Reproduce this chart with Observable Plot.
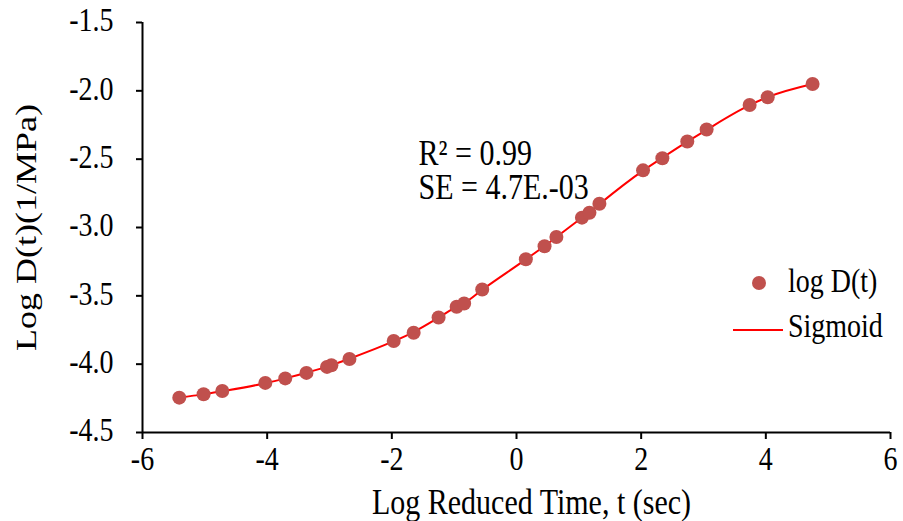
<!DOCTYPE html>
<html>
<head>
<meta charset="utf-8">
<script src="https://cdn.jsdelivr.net/npm/d3@7"></script>
<script src="https://cdn.jsdelivr.net/npm/@observablehq/plot@0.6"></script>
<style>
  html, body { margin: 0; padding: 0; background: #fff; }
  #chart { width: 903px; height: 521px; }
</style>
</head>
<body>
<div id="chart"></div>
<script>
// Data
const logTime = [-5.41, -5.02, -4.72, -4.03, -3.71, -3.37, -3.04, -2.97, -2.68, -1.97, -1.65, -1.25, -0.96, -0.84, -0.55, 0.15, 0.45, 0.64, 1.05, 1.17, 1.33, 2.03, 2.34, 2.74, 3.05, 3.74, 4.03, 4.75];
const logD = [-4.245, -4.22, -4.196, -4.137, -4.104, -4.064, -4.02, -4.008, -3.962, -3.83, -3.77, -3.658, -3.58, -3.556, -3.454, -3.232, -3.137, -3.069, -2.928, -2.892, -2.826, -2.582, -2.493, -2.371, -2.283, -2.104, -2.047, -1.95];
const sigmoidY = [-4.243, -4.221, -4.198, -4.139, -4.104, -4.063, -4.018, -4.007, -3.96, -3.832, -3.765, -3.66, -3.579, -3.553, -3.455, -3.233, -3.135, -3.07, -2.929, -2.889, -2.829, -2.584, -2.49, -2.372, -2.285, -2.105, -2.046, -1.95];
const xTicks = [-6, -4, -2, 0, 2, 4, 6];
const yTicks = [-4.5, -4.0, -3.5, -3.0, -2.5, -2.0, -1.5];
const xLabel = "Log Reduced Time, t (sec)";
const yLabel = "Log D(t)(1/MPa)";
const annotation = "R\u00B2 = 0.99\nSE = 4.7E.-03";
const legendLabels = ["log D(t)", "Sigmoid"];

const points = logTime.map((x, i) => ({x, y: logD[i]}));
const fit = logTime.map((x, i) => ({x, y: sigmoidY[i]}));

const FONT = "'Liberation Serif', 'Times New Roman', serif";
const FS = 28;      // tick labels / legend
const FT = 30;      // titles / annotation
const STRETCH = 1.2; // the reference's text is taller than wide
const DOT = "#C0504D";
const LINE = "#FF0000";

function legend() {
  const g = d3.create("svg:g").attr("class", "stretch").attr("font-family", FONT).attr("font-size", FS).attr("fill", "#000").attr("text-anchor", "start");
  g.append("circle").attr("cx", 759).attr("cy", 283).attr("r", 7).attr("fill", DOT);
  g.append("text").attr("x", 788).attr("y", 292).text(legendLabels[0]);
  g.append("line").attr("x1", 733).attr("x2", 783).attr("y1", 330).attr("y2", 330).attr("stroke", LINE).attr("stroke-width", 2);
  g.append("text").attr("x", 788).attr("y", 337).text(legendLabels[1]);
  return g.node();
}

const chart = Plot.plot({
  width: 903,
  height: 521,
  marginLeft: 142,
  marginRight: 13,
  marginTop: 22,
  marginBottom: 89,
  style: {fontFamily: FONT, fontSize: FS + "px", color: "#000", background: "#fff", overflow: "visible"},
  x: {domain: [-6, 6], axis: null},
  y: {domain: [-4.5, -1.5], axis: null},
  marks: [
    // tick marks
    Plot.ruleX(xTicks, {x: d => d, y1: -4.5, y2: -4.5, insetBottom: -7, stroke: "#000", strokeWidth: 2}),
    Plot.ruleY(yTicks, {y: d => d, x1: -6, x2: -6, insetLeft: -6, stroke: "#000", strokeWidth: 2}),
    // axis lines
    Plot.ruleX([-6], {stroke: "#000", strokeWidth: 2}),
    Plot.ruleY([-4.5], {stroke: "#000", strokeWidth: 2}),
    // tick labels
    Plot.text(xTicks, {x: d => d, frameAnchor: "bottom", dy: 18, text: d => String(d), lineAnchor: "top", fontSize: FS, className: "stretch"}),
    Plot.text(yTicks, {y: d => d, frameAnchor: "left", dx: -29, text: d => d.toFixed(1), textAnchor: "end", lineAnchor: "middle", fontSize: FS, className: "stretch"}),
    // data
    Plot.line(fit, {x: "x", y: "y", stroke: LINE, strokeWidth: 2, curve: "monotone-x"}),
    Plot.dot(points, {x: "x", y: "y", r: 7, fill: DOT, stroke: "none"}),
    // annotation and titles
    Plot.text([annotation], {frameAnchor: "top-left", dx: 276, dy: 176, text: d => d, textAnchor: "start", lineAnchor: "bottom", lineHeight: 34 / (FT * STRETCH), fontSize: FT, className: "stretch"}),
    Plot.text([xLabel], {frameAnchor: "bottom", dx: 15, dy: 81, text: d => d, lineAnchor: "bottom", fontSize: FT, className: "stretch"}),
    Plot.text([yLabel], {frameAnchor: "left", dx: -107, rotate: -90, text: d => d, textAnchor: "middle", lineAnchor: "bottom", fontSize: FT, className: "stretch"}),
    legend
  ]
});
document.getElementById("chart").appendChild(chart);

// Stretch text vertically (in screen space) around its own anchor point
chart.querySelectorAll(".stretch text").forEach(t => {
  const xl = t.x && t.x.baseVal, yl = t.y && t.y.baseVal;
  const x = xl && xl.numberOfItems ? xl.getItem(0).value : 0;
  const y = yl && yl.numberOfItems ? yl.getItem(0).value : 0;
  const tr = t.getAttribute("transform") || "";
  t.removeAttribute("x");
  t.removeAttribute("y");
  const rotated = /rotate\(-90\)/.test(tr);
  const sc = rotated ? `scale(${STRETCH},1)` : `scale(1,${STRETCH})`;
  t.setAttribute("transform", `${tr} translate(${x},${y}) ${sc}`);
});
</script>
</body>
</html>
